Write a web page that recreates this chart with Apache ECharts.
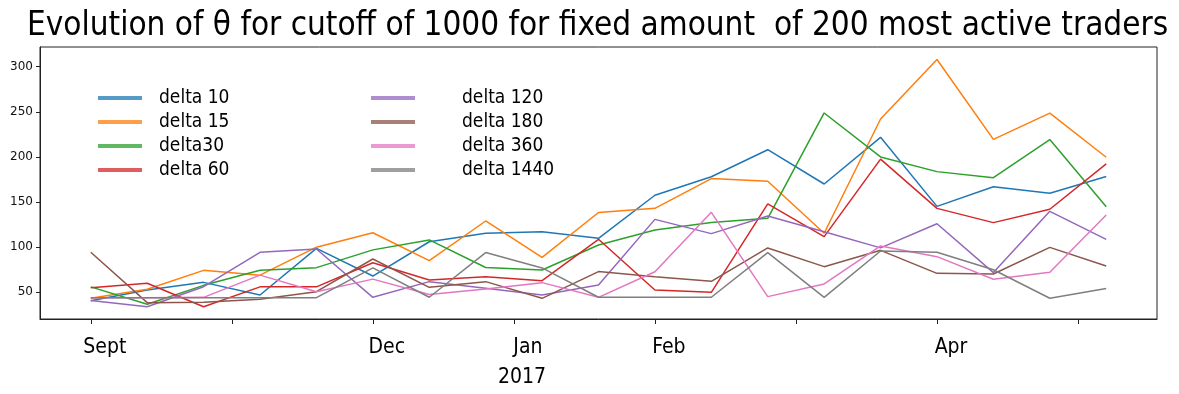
<!DOCTYPE html>
<html>
<head>
<meta charset="utf-8">
<script src="https://cdn.jsdelivr.net/npm/echarts@6/dist/echarts.min.js"></script>
<style>
    html, body { margin: 0; padding: 0; background: #fff; }
    #main { width: 1179px; height: 394px; }
</style>
</head>
<body>
<div id="main"></div>
<script>
// data, one point per step (19 steps)
var delta10 = [40.7, 52.5, 61, 47, 98.7, 68, 106, 115.3, 117.2, 109.8, 157.5, 178, 208, 170, 221.7, 145.2, 167, 159.7, 178.2];
var delta15 = [43.3, 53.3, 74.3, 69, 100, 116, 85, 129, 88.7, 138.4, 143, 176, 173, 115.4, 242, 308, 219.5, 248.5, 199.6];
var delta30 = [56, 36.7, 57.7, 74.5, 77.3, 97, 108, 77.5, 74.7, 102.4, 119, 127.2, 132, 248.7, 200, 183.7, 177, 219.2, 144.9];
var delta60 = [55, 60, 34, 56, 56, 82.8, 63.6, 67.3, 62.9, 108.7, 52.5, 50, 147.9, 111.7, 197.5, 143, 127.2, 142, 192.2];
var delta120 = [40.8, 34, 56.2, 94.3, 98, 44.4, 61.8, 54.4, 47, 58, 130.8, 115, 134.5, 117, 99.2, 126, 71.8, 139.7, 108.6];
var delta180 = [94.3, 38.5, 38.9, 42.4, 50.7, 86.9, 55.5, 61.8, 43.3, 72.9, 67.3, 62.2, 99.1, 78.4, 96.5, 71, 70.3, 99.8, 79.1];
var delta360 = [44, 44, 44.4, 69, 50.6, 64.6, 47.6, 53.7, 60.7, 44.4, 72.8, 138.6, 45.2, 59.2, 101.3, 89.5, 64.4, 72.2, 135.7];
var delta1440 = [44, 44, 44, 44, 44, 77, 44.5, 94, 77, 44.5, 44.5, 44.5, 94, 44.4, 95.8, 94.3, 75, 43.4, 54.3];

var seriesNames = ['delta 10', 'delta 15', 'delta30', 'delta 60', 'delta 120', 'delta 180', 'delta 360', 'delta 1440'];
var seriesValues = [delta10, delta15, delta30, delta60, delta120, delta180, delta360, delta1440];
var colors = ['#1f77b4', '#ff7f0e', '#2ca02c', '#d62728', '#9467bd', '#8c564b', '#e377c2', '#7f7f7f'];

// x ticks every 2.5 steps, only some of them carry a month name
var xTicks = [0, 2.5, 5, 7.5, 10, 12.5, 15, 17.5];
var xLabelPos = [0, 5, 7.5, 10, 15];
var xLabelText = ['Sept', 'Dec', 'Jan', 'Feb', 'Apr'];
var yTicks = [50, 100, 150, 200, 250, 300];

var narrow = '"Liberation Sans Narrow", "DejaVu Sans Condensed", sans-serif';

var oChart = echarts.init(document.getElementById('main'));

var series = [];
for (var i = 0; i < seriesNames.length; i++) {
    var pts = [];
    for (var k = 0; k < seriesValues[i].length; k++) {
        pts.push([k, seriesValues[i][k]]);
    }
    series.push({
        name: seriesNames[i],
        type: 'line',
        symbol: 'none',
        animation: false,
        lineStyle: { width: 1.5, color: colors[i] },
        itemStyle: { color: colors[i] },
        data: pts
    });
}

function legendBlock(names, left, textPad) {
    return {
        orient: 'vertical',
        left: left,
        top: 83,
        icon: 'rect',
        itemWidth: 44,
        itemHeight: 4,
        itemGap: 4,
        itemStyle: { opacity: 0.75 },
        selectedMode: false,
        textStyle: {
            fontFamily: narrow,
            fontSize: 19,
            color: '#000',
            lineHeight: 20,
            padding: [0, 0, 0, textPad]
        },
        data: names
    };
}

var chartopt = {
    backgroundColor: '#fff',
    color: colors,
    title: {
        text: 'Evolution of \u03b8 for cutoff of 1000 for fixed amount  of 200 most active traders',
        left: 22,
        top: 5,
        textStyle: {
            fontFamily: narrow,
            fontSize: 33,
            fontWeight: 'normal',
            color: '#000'
        }
    },
    legend: [
        legendBlock(seriesNames.slice(0, 4), 93, 12),
        legendBlock(seriesNames.slice(4), 366, 42)
    ],
    grid: {
        left: 40,
        right: 22,
        top: 47,
        bottom: 75,
        show: true,
        borderColor: '#222',
        borderWidth: 1,
        containLabel: false
    },
    xAxis: {
        type: 'value',
        min: -0.9,
        max: 18.9,
        splitLine: { show: false },
        axisLine: { show: true, onZero: false, lineStyle: { color: '#222', width: 1 } },
        axisTick: {
            show: true,
            length: 5,
            customValues: xTicks,
            lineStyle: { color: '#222' }
        },
        axisLabel: {
            customValues: xLabelPos,
            margin: 18,
            padding: [0, 0, 0, 28],
            fontFamily: narrow,
            fontSize: 21,
            color: '#000',
            formatter: function (v) {
                var idx = xLabelPos.indexOf(v);
                return idx >= 0 ? xLabelText[idx] : '';
            }
        }
    },
    yAxis: {
        type: 'value',
        min: 20.4,
        max: 321.8,
        splitLine: { show: false },
        axisLine: { show: true, onZero: false, lineStyle: { color: '#222', width: 1 } },
        axisTick: {
            show: true,
            length: 4,
            customValues: yTicks,
            lineStyle: { color: '#222' }
        },
        axisLabel: {
            customValues: yTicks,
            margin: 7,
            fontFamily: 'DejaVu Sans',
            fontSize: 12,
            color: '#111'
        }
    },
    graphic: [{
        type: 'text',
        left: 498,
        top: 367,
        style: {
            text: '2017',
            fontFamily: narrow,
            fontSize: 21,
            fill: '#000'
        }
    }],
    series: series
};

oChart.setOption(chartopt);
</script>
</body>
</html>
